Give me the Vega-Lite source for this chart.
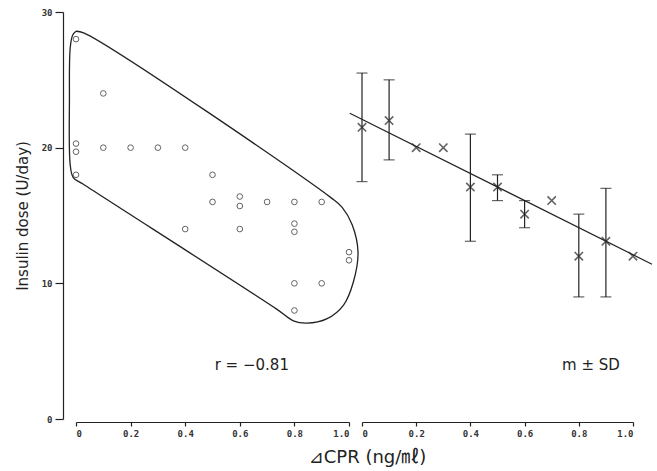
{
  "$schema": "https://vega.github.io/schema/vega-lite/v6.json",
  "padding": {"left": 15, "top": 8, "right": 5, "bottom": 5},
  "bounds": "flush",
  "spacing": 13,
  "background": "white",
  "config": {
    "view": {"stroke": null},
    "axis": {
      "domainColor": "#222",
      "domainWidth": 1.2,
      "tickColor": "#222",
      "tickWidth": 1.2,
      "labelFont": "DejaVu Sans Mono",
      "labelFontWeight": "bold",
      "labelFontSize": 9,
      "labelColor": "#333",
      "grid": false,
      "titleFont": "DejaVu Sans, Noto Sans CJK JP",
      "titleFontWeight": "normal",
      "titleFontSize": 15,
      "titleColor": "#222"
    }
  },
  "datasets": {
    "circles": [
      {"cpr": 0, "dose": 28}, {"cpr": 0.1, "dose": 24}, {"cpr": 0, "dose": 20.3}, {"cpr": 0, "dose": 19.7},
      {"cpr": 0.1, "dose": 20}, {"cpr": 0.2, "dose": 20}, {"cpr": 0.3, "dose": 20}, {"cpr": 0.4, "dose": 20},
      {"cpr": 0, "dose": 18}, {"cpr": 0.5, "dose": 18}, {"cpr": 0.5, "dose": 16}, {"cpr": 0.6, "dose": 16.4},
      {"cpr": 0.6, "dose": 15.7}, {"cpr": 0.7, "dose": 16}, {"cpr": 0.8, "dose": 16}, {"cpr": 0.9, "dose": 16},
      {"cpr": 0.4, "dose": 14}, {"cpr": 0.6, "dose": 14}, {"cpr": 0.8, "dose": 14.4}, {"cpr": 0.8, "dose": 13.8},
      {"cpr": 1.0, "dose": 12.3}, {"cpr": 1.0, "dose": 11.7}, {"cpr": 0.8, "dose": 10}, {"cpr": 0.9, "dose": 10},
      {"cpr": 0.8, "dose": 8}
    ],
    "outline": [
      {"o": 1, "cpr": 0.0, "dose": 28.58},
      {"o": 2, "cpr": 0.03, "dose": 28.45},
      {"o": 3, "cpr": 0.935, "dose": 16.3},
      {"o": 4, "cpr": 0.975, "dose": 15.6},
      {"o": 5, "cpr": 1.012, "dose": 14.3},
      {"o": 6, "cpr": 1.033, "dose": 12.3},
      {"o": 7, "cpr": 1.016, "dose": 10.1},
      {"o": 8, "cpr": 0.98, "dose": 8.4},
      {"o": 9, "cpr": 0.92, "dose": 7.4},
      {"o": 10, "cpr": 0.845, "dose": 7.07},
      {"o": 11, "cpr": 0.796, "dose": 7.24},
      {"o": 12, "cpr": 0.735, "dose": 8.1},
      {"o": 13, "cpr": 0.027, "dose": 17.3},
      {"o": 14, "cpr": -0.01, "dose": 17.8},
      {"o": 15, "cpr": -0.021, "dose": 18.7},
      {"o": 16, "cpr": -0.024, "dose": 23.6},
      {"o": 17, "cpr": -0.021, "dose": 27.4},
      {"o": 18, "cpr": -0.012, "dose": 28.3},
      {"o": 19, "cpr": 0.0, "dose": 28.58}
    ],
    "means": [
      {"cpr": 0, "dose": 21.5, "lo": 17.5, "hi": 25.5},
      {"cpr": 0.1, "dose": 22, "lo": 19.1, "hi": 25},
      {"cpr": 0.2, "dose": 20},
      {"cpr": 0.3, "dose": 20},
      {"cpr": 0.4, "dose": 17.1, "lo": 13.1, "hi": 21},
      {"cpr": 0.5, "dose": 17.1, "lo": 16.1, "hi": 18},
      {"cpr": 0.6, "dose": 15.1, "lo": 14.1, "hi": 16.1},
      {"cpr": 0.7, "dose": 16.1},
      {"cpr": 0.8, "dose": 12, "lo": 9, "hi": 15.1},
      {"cpr": 0.9, "dose": 13.1, "lo": 9, "hi": 17},
      {"cpr": 1.0, "dose": 12}
    ],
    "fit": [
      {"cpr": -0.045, "dose": 22.54},
      {"cpr": 1.07, "dose": 11.41}
    ],
    "labelsLeft": [{"cpr": 0.644, "dose": 4, "label": "r = −0.81"}],
    "labelsRight": [{"cpr": 0.845, "dose": 4, "label": "m ± SD"}]
  },
  "hconcat": [
    {
      "width": 273,
      "height": 407,
      "encoding": {
        "x": {
          "field": "cpr", "type": "quantitative",
          "scale": {"domain": [0, 1]},
          "axis": {
            "title": null, "offset": 3, "values": [0, 0.2, 0.4, 0.6, 0.8, 1.0], "tickSize": 4,
            "labelExpr": "datum.value == 0 ? '0' : format(datum.value, '.1f')", "labelPadding": 3
          }
        },
        "y": {
          "field": "dose", "type": "quantitative",
          "scale": {"domain": [0, 30]},
          "axis": {
            "title": "Insulin dose (U/day)", "offset": 13, "values": [0, 10, 20, 30], "tickSize": 8,
            "labelPadding": 3, "titlePadding": 11
          }
        }
      },
      "layer": [
        {
          "data": {"name": "outline"},
          "mark": {"type": "line", "color": "#222", "strokeWidth": 1.3, "interpolate": "catmull-rom"},
          "encoding": {"order": {"field": "o", "type": "quantitative"}}
        },
        {
          "data": {"name": "circles"},
          "mark": {"type": "point", "shape": "circle", "filled": false, "color": "#222", "size": 32, "strokeWidth": 1}
        },
        {
          "data": {"name": "labelsLeft"},
          "mark": {"type": "text", "font": "DejaVu Sans", "fontSize": 15, "color": "#222", "align": "center", "baseline": "middle"},
          "encoding": {"text": {"field": "label"}}
        }
      ]
    },
    {
      "width": 271,
      "height": 407,
      "encoding": {
        "x": {
          "field": "cpr", "type": "quantitative",
          "scale": {"domain": [0, 1]},
          "axis": {
            "title": "⊿CPR (ng/㎖)", "offset": 3, "values": [0, 0.2, 0.4, 0.6, 0.8, 1.0], "tickSize": 4,
            "labelExpr": "datum.value == 0 ? '0' : format(datum.value, '.1f')", "labelPadding": 3,
            "titleX": 5, "titleY": 35, "titleAlign": "center", "titleBaseline": "middle", "titleAnchor": null,
            "titleFontSize": 18
          }
        },
        "y": {
          "field": "dose", "type": "quantitative",
          "scale": {"domain": [0, 30]},
          "axis": null
        }
      },
      "layer": [
        {
          "data": {"name": "fit"},
          "mark": {"type": "line", "color": "#222", "strokeWidth": 1.2}
        },
        {
          "data": {"name": "means"},
          "transform": [{"filter": "isValid(datum.lo)"}],
          "mark": {"type": "rule", "color": "#222", "strokeWidth": 1.2},
          "encoding": {
            "y": {"field": "lo", "type": "quantitative"},
            "y2": {"field": "hi"}
          }
        },
        {
          "data": {"name": "means"},
          "transform": [{"filter": "isValid(datum.lo)"}],
          "mark": {"type": "tick", "orient": "horizontal", "color": "#222", "size": 11, "thickness": 1.2},
          "encoding": {"y": {"field": "lo", "type": "quantitative"}}
        },
        {
          "data": {"name": "means"},
          "transform": [{"filter": "isValid(datum.hi)"}],
          "mark": {"type": "tick", "orient": "horizontal", "color": "#222", "size": 11, "thickness": 1.2},
          "encoding": {"y": {"field": "hi", "type": "quantitative"}}
        },
        {
          "data": {"name": "means"},
          "mark": {"type": "point", "shape": "M-1,-1L1,1M1,-1L-1,1", "filled": false, "color": "#222", "size": 70, "strokeWidth": 1.6}
        },
        {
          "data": {"name": "labelsRight"},
          "mark": {"type": "text", "font": "DejaVu Sans", "fontSize": 15, "color": "#222", "align": "center", "baseline": "middle"},
          "encoding": {"text": {"field": "label"}}
        }
      ]
    }
  ]
}
